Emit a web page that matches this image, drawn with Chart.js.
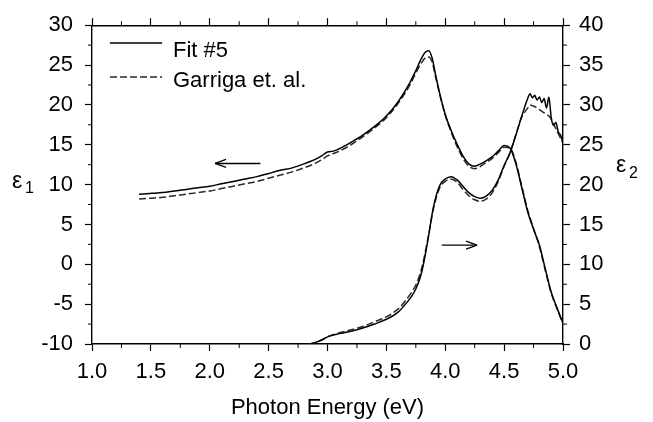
<!DOCTYPE html>
<html>
<head>
<meta charset="utf-8">
<script src="https://cdn.jsdelivr.net/npm/chart.js@4.4.0/dist/chart.umd.min.js"></script>
<style>
  body { margin: 0; background: #fff; }
  #wrap { width: 653px; height: 422px; }
</style>
</head>
<body>
<div id="wrap"><canvas id="c" width="653" height="422"></canvas></div>
<script>
// photon energy (eV) for the eps1 curves
const e1Energy = [1.40,1.50,1.60,1.70,1.80,1.90,2.00,2.10,2.20,2.30,2.40,2.50,2.60,2.70,2.80,2.90,
  2.95,3.00,3.05,3.10,3.20,3.30,3.40,3.50,3.60,3.70,3.75,3.80,3.83,3.86,3.89,3.92,3.96,
  4.00,4.05,4.10,4.15,4.20,4.25,4.30,4.35,4.40,4.45,4.50,4.55,4.60,4.65,4.70,4.75,4.80,4.85,4.90,4.95,5.00];
const e1Fit = [8.8,8.9,9.0,9.2,9.4,9.6,9.8,10.1,10.4,10.7,11.0,11.4,11.8,12.1,12.6,13.2,
  13.6,14.1,14.2,14.5,15.3,16.2,17.3,18.6,20.4,22.8,24.3,25.9,26.6,26.8,25.8,23.6,21.0,
  18.8,16.8,15.1,13.6,12.6,12.3,12.6,13.0,13.5,14.2,14.9,14.6,12.6,9.6,6.6,4.4,2.4,-0.6,-3.5,-5.5,-7.4];
const e1Garriga = [8.2,8.3,8.4,8.6,8.8,9.0,9.2,9.5,9.8,10.1,10.4,10.8,11.2,11.6,12.1,12.7,
  13.1,13.6,13.9,14.2,15.0,16.0,17.1,18.4,20.2,22.5,24.0,25.3,25.9,26.0,25.3,23.4,20.9,
  18.7,16.6,14.8,13.3,12.3,12.0,12.3,12.8,13.3,14.0,14.7,14.6,12.8,9.8,6.8,4.5,2.2,-0.8,-3.6,-5.6,-7.5];

// photon energy (eV) for the eps2 curves
const e2Energy = [2.85,2.90,2.95,3.00,3.10,3.20,3.30,3.40,3.50,3.60,
  3.65,3.70,3.75,3.80,3.85,3.90,3.95,4.00,4.05,4.10,4.15,4.20,4.25,4.30,4.35,4.40,4.45,4.50,4.55,4.60,4.65,4.70,
  4.72,4.74,4.76,4.78,4.80,4.82,4.84,4.86,4.88,4.90,4.92,4.94,4.96,4.98,5.00];
const e2Fit = [0.0,0.2,0.5,0.9,1.3,1.6,2.0,2.5,3.1,4.0,
  4.8,5.7,6.9,9.0,12.8,17.2,19.8,20.7,21.0,20.6,19.8,19.0,18.5,18.3,18.6,19.3,20.6,22.4,24.0,26.2,28.6,30.8,
  31.4,30.9,31.2,30.6,31.0,30.3,30.8,29.6,31.0,28.4,27.4,27.8,26.6,26.2,25.2];
const e2Garriga = [0.0,0.2,0.5,0.9,1.4,1.8,2.2,2.8,3.4,4.4,
  5.2,6.2,7.4,9.5,13.0,17.0,19.5,20.4,20.7,20.3,19.4,18.6,18.1,17.9,18.2,19.0,20.4,22.3,24.0,26.3,28.5,29.6,
  30.0,29.9,29.8,29.6,29.4,29.2,29.0,28.8,28.6,28.2,27.6,27.0,26.4,25.8,25.2];

const seriesNames = ['Fit #5', 'Garriga et. al.'];
const xTitle = 'Photon Energy (eV)';

const FONT = "'Liberation Sans', Arial, sans-serif";

function pts(xs, ys) {
  return xs.map(function (x, i) { return { x: x, y: ys[i] }; });
}

function lineSet(label, xs, ys, axis, dashed) {
  return {
    label: label,
    data: pts(xs, ys),
    yAxisID: axis,
    borderColor: dashed ? '#2a2a2a' : '#000',
    borderWidth: 1.5,
    borderDash: dashed ? [7, 3] : [],
    pointRadius: 0,
    fill: false,
    cubicInterpolationMode: 'monotone'
  };
}

// minor ticks, legend, eps labels and the two arrows
const extras = {
  id: 'extras',
  afterDraw: function (chart) {
    const ctx = chart.ctx;
    const a = chart.chartArea;
    const sx = chart.scales.x, sy = chart.scales.y, sy2 = chart.scales.y2;
    function seg(x1, y1, x2, y2) { ctx.beginPath(); ctx.moveTo(x1, y1); ctx.lineTo(x2, y2); ctx.stroke(); }

    ctx.save();
    ctx.strokeStyle = '#000';
    ctx.lineWidth = 1;
    for (let v = 1.25; v < 5; v += 0.5) {
      const px = sx.getPixelForValue(v);
      seg(px, a.bottom, px, a.bottom + 4);
      seg(px, a.top, px, a.top - 4);
    }
    for (let v = -7.5; v < 30; v += 5) {
      const py = sy.getPixelForValue(v);
      seg(a.left - 4, py, a.left, py);
    }
    for (let v = 2.5; v < 40; v += 5) {
      const py = sy2.getPixelForValue(v);
      seg(a.right, py, a.right + 4, py);
    }

    // legend
    ctx.lineWidth = 1.5;
    seg(110, 43, 162, 43);
    ctx.strokeStyle = '#2a2a2a';
    ctx.setLineDash([7, 3]);
    seg(110, 77, 162, 77);
    ctx.setLineDash([]);
    ctx.fillStyle = '#000';
    ctx.font = '22px ' + FONT;
    ctx.textBaseline = 'alphabetic';
    ctx.textAlign = 'left';
    ctx.fillText(seriesNames[0], 173, 57);
    ctx.fillText(seriesNames[1], 173, 87);

    // eps labels
    ctx.font = '23px ' + FONT;
    ctx.fillText('\u03b5', 12, 188);
    ctx.fillText('\u03b5', 616, 172);
    ctx.font = '16px ' + FONT;
    ctx.fillText('1', 25, 193);
    ctx.fillText('2', 629, 178);

    // arrows
    ctx.strokeStyle = '#000';
    ctx.lineWidth = 1.3;
    let y1 = sy.getPixelForValue(12.65);
    let xa = sx.getPixelForValue(2.045), xb = sx.getPixelForValue(2.43);
    seg(xa, y1, xb, y1);
    seg(xa, y1, xa + 11, y1 - 4);
    seg(xa, y1, xa + 11, y1 + 4);
    let y2 = sy2.getPixelForValue(12.4);
    xa = sx.getPixelForValue(3.97); xb = sx.getPixelForValue(4.27);
    seg(xa, y2, xb, y2);
    seg(xb, y2, xb - 11, y2 - 4);
    seg(xb, y2, xb - 11, y2 + 4);
    ctx.restore();
  }
};

const gridOpts = { drawOnChartArea: false, tickLength: 7, color: '#000', tickColor: '#000', tickWidth: 1.2 };
const borderOpts = { display: true, color: '#000', width: 1.4 };
const tickFont = { family: FONT, size: 22 };

new Chart(document.getElementById('c').getContext('2d'), {
  type: 'line',
  data: {
    datasets: [
      lineSet(seriesNames[0], e1Energy, e1Fit, 'y', false),
      lineSet(seriesNames[1], e1Energy, e1Garriga, 'y', true),
      lineSet(seriesNames[0], e2Energy, e2Fit, 'y2', false),
      lineSet(seriesNames[1], e2Energy, e2Garriga, 'y2', true)
    ]
  },
  options: {
    responsive: false,
    animation: false,
    layout: { padding: 0 },
    plugins: { legend: { display: false }, tooltip: { enabled: false } },
    scales: {
      x: {
        type: 'linear', position: 'bottom', min: 1, max: 5,
        grid: gridOpts, border: borderOpts,
        ticks: { stepSize: 0.5, color: '#000', font: tickFont, padding: 8, maxRotation: 0,
          callback: function (v) { return v.toFixed(1); } },
        title: { display: true, text: xTitle, color: '#000', font: { family: FONT, size: 22 }, padding: { top: 0, bottom: 1 } },
        afterFit: function (s) { s.height = 78; }
      },
      x2: {
        type: 'linear', position: 'top', min: 1, max: 5,
        grid: gridOpts, border: borderOpts,
        ticks: { stepSize: 0.5, display: false },
        afterFit: function (s) { s.height = 19; }
      },
      y: {
        position: 'left', min: -10, max: 30,
        grid: gridOpts, border: borderOpts,
        ticks: { stepSize: 5, color: '#000', font: tickFont, padding: 12 },
        afterFit: function (s) { s.width = 92; }
      },
      y2: {
        position: 'right', min: 0, max: 40,
        grid: gridOpts, border: borderOpts,
        ticks: { stepSize: 5, color: '#000', font: tickFont, padding: 9 },
        afterFit: function (s) { s.width = 90; }
      }
    }
  },
  plugins: [extras]
});
</script>
</body>
</html>
